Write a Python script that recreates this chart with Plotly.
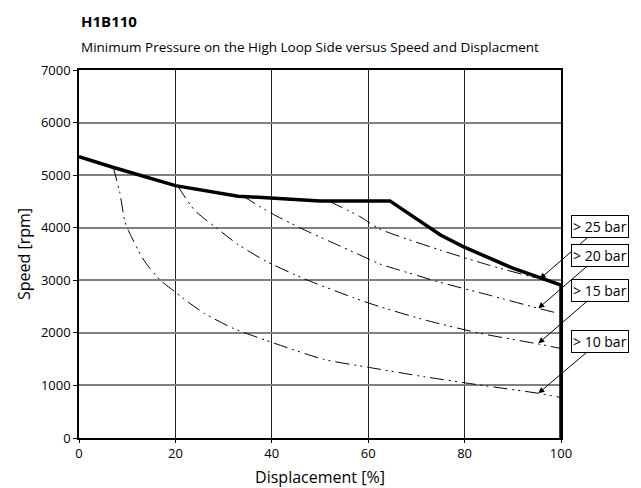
import plotly.graph_objects as go

# Envelope (thick line)
env_x = [0, 7, 20, 33, 50, 64.5, 75, 79.7, 90, 100, 100]
env_y = [5350, 5150, 4800, 4600, 4510, 4510, 3860, 3640, 3230, 2910, 0]

# Minimum-pressure curves
c25_x = [52, 58.3, 62.4, 74.9, 85, 95.6, 99.5]
c25_y = [4500, 4210, 3975, 3576, 3290, 3025, 2940]

c20_x = [34, 40, 45.8, 52, 58.3, 62.4, 65.9, 75, 85, 95.3, 99.5]
c20_y = [4600, 4270, 4000, 3740, 3480, 3310, 3209, 2960, 2720, 2467, 2370]

c15_x = [20.5, 24, 28.6, 33, 38.6, 46.5, 56.9, 62.4, 72, 83.2, 95.3, 99.8]
c15_y = [4790, 4330, 3989, 3680, 3373, 3037, 2670, 2498, 2240, 1991, 1788, 1706]

c10_x = [7.1, 8.5, 9.5, 10.2, 13, 14.7, 17, 19.9, 21.6, 26, 32, 38.6, 50.7, 60, 72, 83.2, 95.3, 99.8]
c10_y = [5150, 4655, 4115, 3957, 3449, 3228, 2990, 2783, 2657, 2370, 2086, 1864, 1497, 1345, 1160, 1008, 850, 774]

labels = ["> 25 bar", "> 20 bar", "> 15 bar", "> 10 bar"]
arrow_tip_x = [95.6, 95.3, 95.3, 95.3]
arrow_tip_y = [3025, 2467, 1800, 850]
label_y = [4019, 3481, 2815, 1845]
label_x = [108.1, 108.1, 108.1, 108.1]

x_ticks = [0, 20, 40, 60, 80, 100]
y_ticks = [0, 1000, 2000, 3000, 4000, 5000, 6000, 7000]

FONT = "Open Sans"
dash = "14px,5px,2px,4px,2px,5px"

fig = go.Figure()
for cx, cy in [(c25_x, c25_y), (c20_x, c20_y), (c15_x, c15_y), (c10_x, c10_y)]:
    fig.add_trace(go.Scatter(x=cx, y=cy, mode="lines", line=dict(color="black", width=1, dash=dash, shape="spline", smoothing=0.6), hoverinfo="skip", showlegend=False))

fig.add_trace(go.Scatter(x=env_x, y=env_y, mode="lines", line=dict(color="black", width=3.5), hoverinfo="skip", showlegend=False))

for lab, tx, ty, lx, ly in zip(labels, arrow_tip_x, arrow_tip_y, label_x, label_y):
    fig.add_annotation(x=tx, y=ty, ax=lx, ay=ly, axref="x", ayref="y", xref="x", yref="y",
                       text=lab, showarrow=True, arrowhead=2, arrowsize=1.2, arrowwidth=1, arrowcolor="black",
                       bordercolor="black", borderwidth=1, borderpad=1, bgcolor="white",
                       font=dict(family=FONT, size=14, color="black"))

fig.add_annotation(x=0, y=1, xref="paper", yref="paper", xanchor="left", yanchor="bottom", yshift=37,
                   text="<b>H1B110</b>", showarrow=False, font=dict(family=FONT, size=15, color="black"))
fig.add_annotation(x=0, y=1, xref="paper", yref="paper", xanchor="left", yanchor="bottom", yshift=12,
                   text="Minimum Pressure on the High Loop Side versus Speed and Displacment", showarrow=False,
                   font=dict(family=FONT, size=13.5, color="black"))
fig.add_annotation(x=0, y=0.5, xref="paper", yref="paper", xanchor="center", yanchor="middle", xshift=-55,
                   text="Speed [rpm]", textangle=-90, showarrow=False, font=dict(family=FONT, size=16, color="black"))

fig.update_layout(
    width=641, height=488, margin=dict(l=79, r=80, t=70, b=50),
    paper_bgcolor="white", plot_bgcolor="white",
    font=dict(family=FONT, size=13, color="black"),
    xaxis=dict(range=[0, 100], tickvals=x_ticks, showgrid=True, gridcolor="#222", gridwidth=1,
               showline=True, linecolor="black", linewidth=1.5, mirror=True, ticks="outside", ticklen=3,
               tickcolor="black", zeroline=False, automargin=False,
               title=dict(text="Displacement [%]", font=dict(size=16)), tickfont=dict(size=13)),
    yaxis=dict(range=[0, 7000], tickvals=y_ticks, showgrid=True, gridcolor="#808080", gridwidth=1.5,
               showline=True, linecolor="black", linewidth=1.5, mirror=True, ticks="outside", ticklen=4,
               tickcolor="black", zeroline=False, automargin=False, tickfont=dict(size=13)),
)

fig.write_html("out.html")
